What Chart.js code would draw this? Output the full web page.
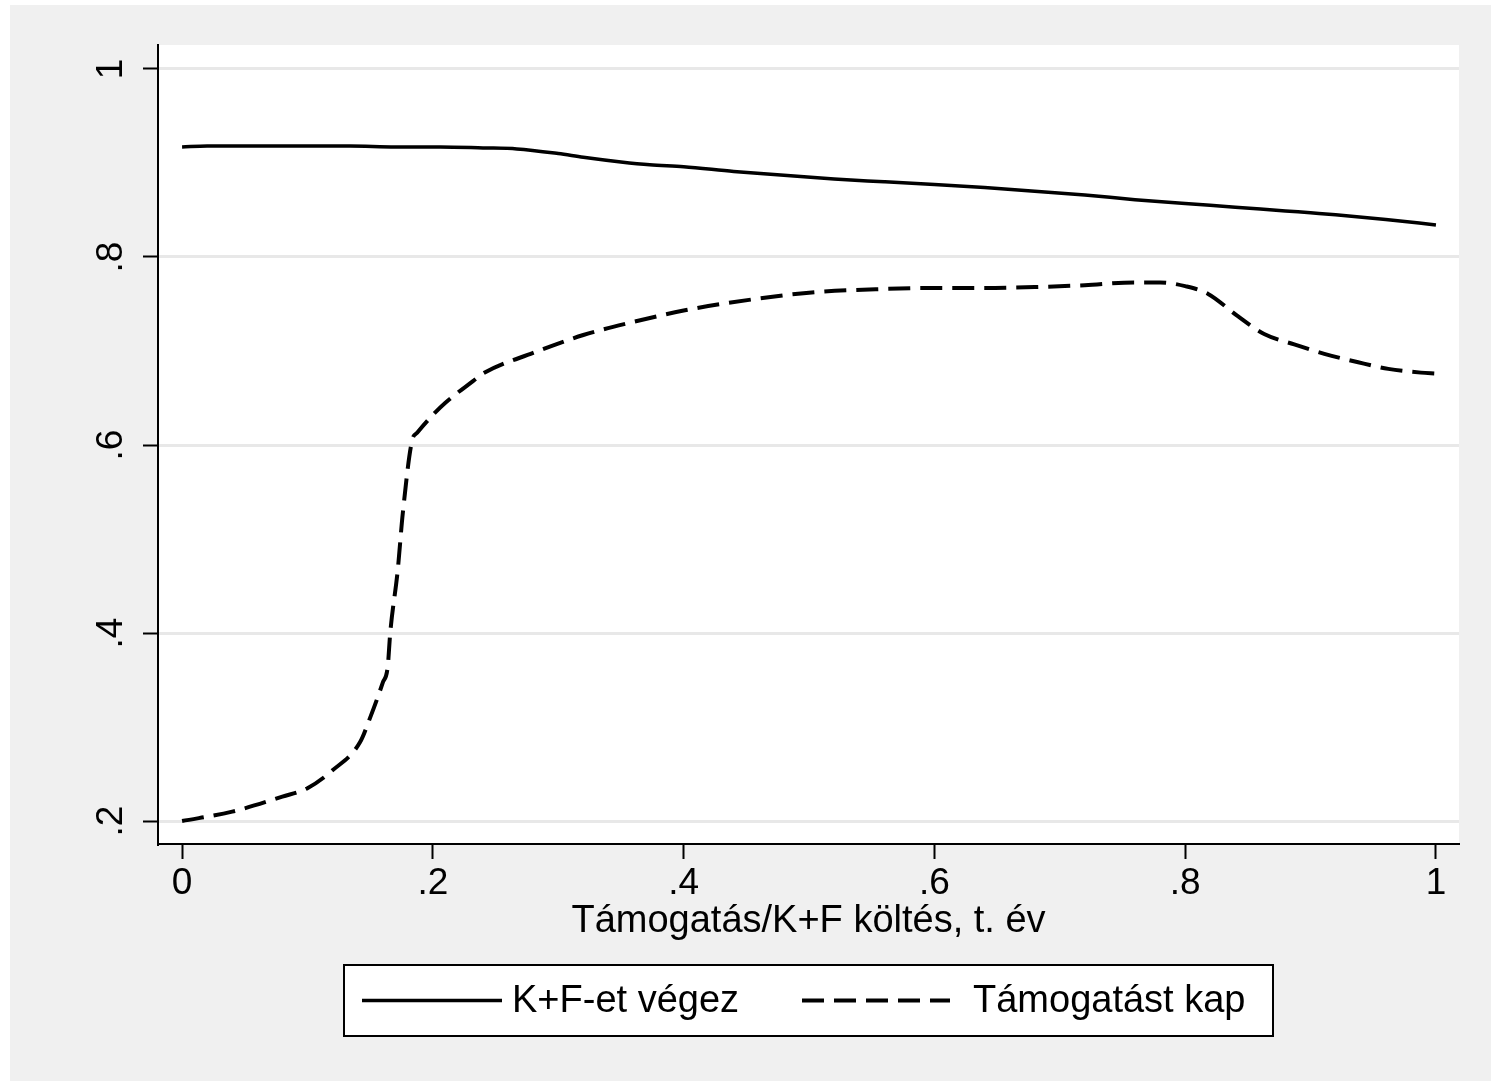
<!DOCTYPE html>
<html>
<head>
<meta charset="utf-8">
<script src="https://cdn.jsdelivr.net/npm/chart.js@4/dist/chart.umd.min.js"></script>
<style>
	html, body { margin: 0; padding: 0; background: #ffffff; }
	#wrap { position: absolute; left: 0; top: 0; width: 1491px; height: 1081px; }
</style>
</head>
<body>
<div id="wrap"><canvas id="chart"></canvas></div>
<script>
// values
const xTicks = [0, 0.2, 0.4, 0.6, 0.8, 1];
const yTicks = [0.2, 0.4, 0.6, 0.8, 1];

const rdX = [0, 0.02, 0.06, 0.1, 0.134, 0.17, 0.206, 0.24, 0.267, 0.3, 0.32, 0.35, 0.373, 0.4, 0.44, 0.48, 0.52, 0.56, 0.6, 0.64, 0.68, 0.72, 0.76, 0.8, 0.84, 0.88, 0.9, 0.92, 0.96, 1.0];
const rdY = [0.917, 0.918, 0.918, 0.918, 0.918, 0.917, 0.917, 0.916, 0.915, 0.910, 0.906, 0.901, 0.898, 0.896, 0.891, 0.887, 0.883, 0.880, 0.877, 0.874, 0.870, 0.866, 0.861, 0.857, 0.853, 0.849, 0.847, 0.845, 0.840, 0.834];

const supX = [0, 0.04, 0.08, 0.1, 0.12, 0.142, 0.15, 0.16, 0.164, 0.166, 0.172, 0.176, 0.1835, 0.1875, 0.2, 0.21, 0.232, 0.24, 0.28, 0.32, 0.36, 0.4, 0.43, 0.5, 0.56, 0.6, 0.64, 0.68, 0.72, 0.76, 0.78, 0.8, 0.818, 0.842, 0.863, 0.887, 0.911, 0.938, 0.962, 0.988, 1.0];
const supY = [0.2, 0.21, 0.226, 0.235, 0.254, 0.284, 0.31, 0.347, 0.364, 0.4, 0.467, 0.527, 0.605, 0.613, 0.632, 0.645, 0.668, 0.676, 0.698, 0.717, 0.731, 0.743, 0.750, 0.762, 0.766, 0.767, 0.767, 0.768, 0.770, 0.773, 0.773, 0.769, 0.761, 0.737, 0.718, 0.707, 0.697, 0.688, 0.681, 0.677, 0.676];

const seriesNames = ['K+F-et végez', 'Támogatást kap'];
const xTitle = 'Támogatás/K+F költés, t. év';

const FONT = "'Liberation Sans', Arial, sans-serif";

function pts(xs, ys) {
	return xs.map(function (x, i) { return { x: x, y: ys[i] }; });
}

function fmt(v) {
	if (v === 0) return '0';
	if (v === 1) return '1';
	return String(+v.toFixed(1)).replace(/^0/, '');
}

const background = {
	id: 'background',
	beforeDraw: function (chart) {
		const c = chart.ctx, a = chart.chartArea;
		c.save();
		c.fillStyle = '#ffffff';
		c.fillRect(0, 0, chart.width, chart.height);
		c.fillStyle = '#f0f0f0';
		c.fillRect(10, 5, chart.width - 10, chart.height - 5);
		c.fillStyle = '#ffffff';
		c.fillRect(a.left, a.top, a.right - a.left, a.bottom - a.top);
		c.restore();
	}
};

// legend box drawn below the axis title, Stata style
const boxLegend = {
	id: 'boxLegend',
	afterDraw: function (chart) {
		const c = chart.ctx;
		const bx = 344, by = 965, bw = 929, bh = 71;
		c.save();
		c.fillStyle = '#ffffff';
		c.fillRect(bx, by, bw, bh);
		c.strokeStyle = '#000000';
		c.lineWidth = 2;
		c.strokeRect(bx, by, bw, bh);
		const items = [
			{ x0: 362, x1: 502, tx: 512 },
			{ x0: 802, x1: 950, tx: 973 }
		];
		const midY = by + bh / 2;
		chart.data.datasets.forEach(function (ds, i) {
			const it = items[i];
			c.beginPath();
			c.setLineDash(ds.borderDash || []);
			c.lineWidth = ds.borderWidth;
			c.strokeStyle = ds.borderColor;
			c.moveTo(it.x0, midY);
			c.lineTo(it.x1, midY);
			c.stroke();
			c.setLineDash([]);
			c.fillStyle = '#000000';
			c.font = '38px ' + FONT;
			c.textBaseline = 'middle';
			c.textAlign = 'left';
			c.fillText(ds.label, it.tx, midY + 1);
		});
		c.restore();
	}
};

const ctx = document.querySelector('#chart').getContext('2d');

const data = {
	datasets: [{
		label: seriesNames[0],
		data: pts(rdX, rdY),
		borderColor: '#000000',
		borderWidth: 3.5,
		pointRadius: 0,
		fill: false,
		cubicInterpolationMode: 'monotone'
	}, {
		label: seriesNames[1],
		data: pts(supX, supY),
		borderColor: '#000000',
		borderWidth: 4,
		borderDash: [22, 10],
		pointRadius: 0,
		fill: false,
		cubicInterpolationMode: 'monotone'
	}]
};

const config = {
	type: 'line',
	data: data,
	options: {
		responsive: true,
		maintainAspectRatio: false,
		animation: false,
		layout: { padding: { left: 0, top: 45, right: 32, bottom: 137 } },
		plugins: {
			legend: { display: false },
			tooltip: { enabled: false }
		},
		scales: {
			x: {
				type: 'linear',
				min: -0.0192,
				max: 1.0184,
				afterBuildTicks: function (s) { s.ticks = xTicks.map(function (v) { return { value: v }; }); },
				afterFit: function (s) { s.height = 100; },
				ticks: {
					callback: fmt,
					color: '#000000',
					font: { family: FONT, size: 37 },
					padding: 3,
					maxRotation: 0,
					minRotation: 0
				},
				grid: {
					drawOnChartArea: false,
					drawTicks: true,
					tickLength: 15,
					tickWidth: 2,
					tickColor: '#000000'
				},
				border: { color: '#000000', width: 2 },
				title: {
					display: true,
					text: xTitle,
					color: '#000000',
					font: { family: FONT, size: 38 },
					padding: { top: 0, bottom: 0 }
				}
			},
			y: {
				type: 'linear',
				min: 0.1756,
				max: 1.0255,
				afterBuildTicks: function (s) { s.ticks = yTicks.map(function (v) { return { value: v }; }); },
				afterFit: function (s) { s.width = 158; },
				ticks: {
					callback: fmt,
					color: '#000000',
					font: { family: FONT, size: 37 },
					minRotation: 90,
					maxRotation: 90,
					crossAlign: 'center',
					padding: 16
				},
				grid: {
					color: '#e8e8e8',
					lineWidth: 3,
					drawTicks: true,
					tickLength: 15,
					tickWidth: 2,
					tickColor: '#000000'
				},
				border: { color: '#000000', width: 2 }
			}
		}
	},
	plugins: [background, boxLegend]
};

const myChart = new Chart(ctx, config);
</script>
</body>
</html>
